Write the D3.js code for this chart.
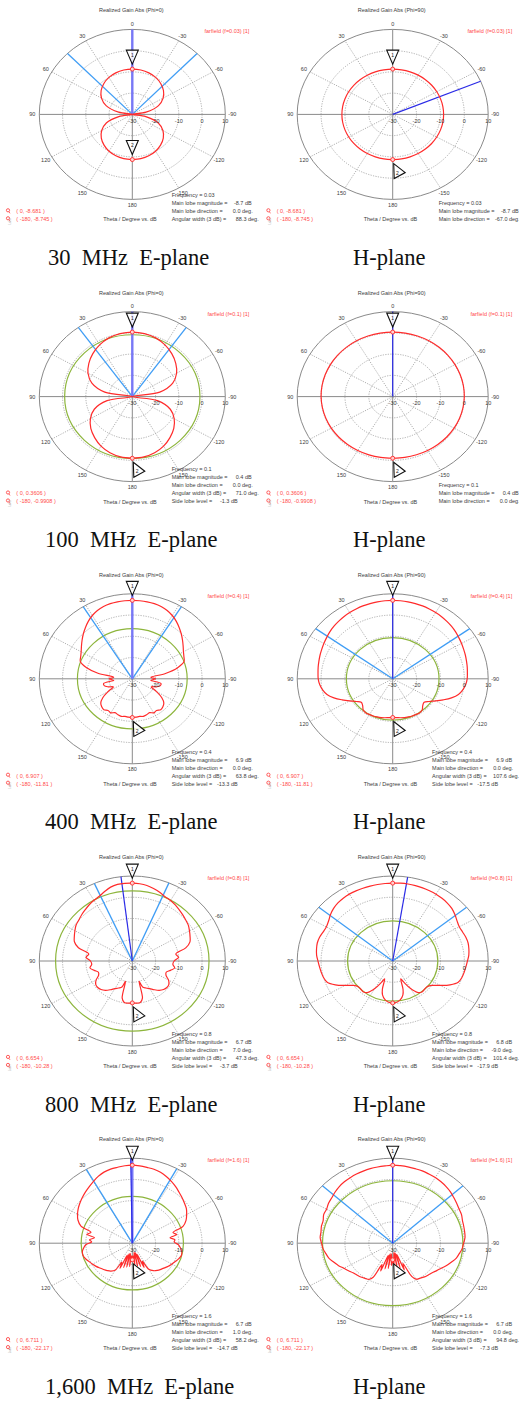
<!DOCTYPE html>
<html>
<head>
<meta charset="utf-8">
<script src="https://cdn.jsdelivr.net/npm/d3@7"></script>
<style>
  html, body { margin: 0; padding: 0; background: #fff; }
  svg { display: block; }
  text { font-family: "Liberation Sans", Arial, sans-serif; }
  .cap { font-family: "Liberation Serif", "Times New Roman", serif; font-size: 22.5px; fill: #111; }
</style>
</head>
<body>
<svg id="fig" width="519" height="1401"></svg>
<script>
// ---- Far-field cuts: theta (deg, 0..180), gain on the +theta side (pos) and on the -theta side (neg), dB ----
const thetaStep10 = [0,10,20,30,40,50,60,70,80,90,100,110,120,130,140,150,160,170,180];
const thetaStep5 = [0,5,10,15,20,25,30,35,40,45,50,55,60,65,70,75,80,85,90,95,100,105,110,115,120,125,130,135,140,145,150,155,160,165,170,175,180];

const e30Pos = [-8.681,-8.8,-9.2,-9.9,-11.0,-12.5,-14.7,-18.0,-24.0,-45,-24.1,-18.1,-14.8,-12.6,-11.1,-10.0,-9.3,-8.9,-8.745];
const e30Neg = [-8.681,-8.8,-9.2,-9.9,-11.0,-12.5,-14.7,-18.0,-24.0,-45,-24.1,-18.1,-14.8,-12.6,-11.1,-10.0,-9.3,-8.9,-8.745];
const h30Pos = [-8.681,-8.682,-8.685,-8.69,-8.695,-8.70,-8.70,-8.71,-8.71,-8.72,-8.72,-8.73,-8.73,-8.735,-8.74,-8.74,-8.745,-8.745,-8.745];
const h30Neg = [-8.681,-8.681,-8.678,-8.675,-8.672,-8.67,-8.668,-8.67,-8.67,-8.675,-8.68,-8.69,-8.70,-8.71,-8.72,-8.73,-8.74,-8.745,-8.745];

const e100Pos = [0.3606,0.1,-0.6,-1.9,-3.6,-5.6,-8.0,-11.5,-18.0,-40,-19.0,-12.6,-9.2,-6.7,-4.8,-3.1,-1.9,-1.2,-0.9908];
const e100Neg = [0.3606,0.1,-0.6,-1.9,-3.6,-5.6,-8.0,-11.5,-18.0,-40,-19.0,-12.6,-9.2,-6.7,-4.8,-3.1,-1.9,-1.2,-0.9908];
const h100Pos = [0.3606,0.35,0.34,0.3,0.25,0.2,0.15,0.1,0.05,0.0,-0.1,-0.2,-0.3,-0.45,-0.6,-0.72,-0.85,-0.95,-0.9908];
const h100Neg = [0.3606,0.35,0.34,0.31,0.26,0.2,0.15,0.1,0.05,0.0,-0.1,-0.2,-0.32,-0.45,-0.6,-0.73,-0.86,-0.95,-0.9908];

const e400Pos = [6.907,6.88,6.8,6.6,6.2,5.5,4.4,3.0,1.4,-0.2,-1.8,-3.3,-4.6,-5.5,-6.2,-9.5,-15,-22,-20,-22,-17.5,-17.5,-19,-21,-18,-14.5,-12.3,-11.4,-11.0,-11.8,-11.5,-12.4,-12.0,-11.7,-12.0,-11.9,-11.81];
const e400Neg = [6.907,6.88,6.8,6.6,6.2,5.5,4.4,3.0,1.4,-0.2,-1.8,-3.3,-4.6,-5.5,-6.3,-9.8,-15.5,-22,-20,-22,-17.5,-17.5,-19,-21,-18,-14.5,-12.3,-11.4,-11.0,-11.8,-11.5,-12.4,-12.0,-11.7,-12.0,-11.9,-11.81];
const h400Pos = [6.907,6.88,6.8,6.65,6.5,6.25,6.0,5.7,5.3,4.9,4.4,3.8,3.3,2.8,2.4,2.0,1.7,1.4,1.2,0.7,-0.2,-1.5,-3.8,-6.6,-9.2,-11.4,-12.8,-12.2,-10.8,-10.4,-10.6,-10.7,-10.9,-11.1,-11.4,-11.7,-11.81];
const h400Neg = [6.907,6.88,6.8,6.65,6.5,6.25,6.0,5.7,5.3,4.9,4.4,3.8,3.3,2.8,2.4,2.0,1.7,1.4,1.2,0.7,-0.2,-1.5,-3.8,-6.6,-9.2,-11.4,-12.8,-12.2,-10.8,-10.4,-10.6,-10.7,-10.9,-11.1,-11.4,-11.7,-11.81];

const e800Theta = [0,5,10,15,20,25,30,35,40,45,50,55,60,65,70,75,80,85,90,95,100,105,110,115,120,125,130,135,140,145,150,155,160,163,166,170,175,180];
const e800Pos = [6.654,6.7,6.6,6.0,4.8,3.6,3.0,2.3,1.5,0.8,0.0,-0.5,-1.5,-2.5,-3.5,-6.0,-11.0,-10.0,-12.0,-12.5,-11.5,-13.0,-14.5,-14.0,-12.0,-10.8,-10.6,-11.0,-12.0,-13.5,-15.0,-16.0,-17.0,-20.0,-12.0,-10.2,-10.1,-10.28];
const e800Neg = [6.654,6.5,6.1,5.3,4.4,3.4,2.9,2.2,1.4,0.7,0.0,-0.6,-1.6,-2.6,-3.6,-6.2,-11.0,-10.0,-12.0,-12.5,-11.5,-13.0,-14.5,-14.0,-12.0,-10.8,-10.6,-11.0,-12.0,-13.5,-15.0,-16.0,-17.0,-20.0,-12.0,-10.2,-10.1,-10.28];
const h800Theta = [0,5,10,15,20,25,30,35,40,45,50,55,60,65,70,75,80,85,90,95,100,105,110,115,120,125,130,135,140,145,150,155,158,162,165,170,175,180];
const h800Pos = [6.654,6.6,6.55,6.5,6.45,6.4,6.35,6.1,5.7,5.0,4.0,2.8,2.1,2.2,2.6,2.7,2.4,2.0,1.3,0.8,0.4,0.0,-0.8,-3.5,-7.0,-10.0,-11.2,-11.2,-11.0,-12.0,-15.0,-19.0,-21.0,-16.0,-13.5,-11.5,-10.5,-10.28];
const h800Neg = [6.654,6.75,6.8,6.75,6.6,6.45,6.3,6.0,5.6,5.0,4.0,2.9,2.2,2.3,2.6,2.7,2.4,2.0,1.3,0.8,0.4,0.0,-0.8,-3.5,-7.0,-10.0,-11.2,-11.2,-11.0,-12.0,-15.0,-19.0,-21.0,-16.0,-13.5,-11.5,-10.5,-10.28];

const e1600Theta = [0,5,10,15,20,25,30,35,40,45,50,55,60,65,70,74,78,81,85,88,92,96,100,105,110,115,120,125,130,135,140,145,150,153,156,159,162,165,168,171,174,177,180];
const e1600Pos = [6.711,6.6,6.3,6.1,5.6,4.7,3.5,2.4,1.4,0.4,-0.6,-1.6,-2.8,-4.2,-6.5,-11.5,-10,-13.5,-11.5,-12.5,-10.0,-9.0,-8.2,-8.0,-8.6,-9.5,-10.3,-11.0,-11.8,-12.5,-13.2,-14.0,-15.5,-20,-17,-24,-18,-25,-18.5,-25,-19,-24,-22.17];
const e1600Neg = [6.711,6.5,6.2,6.0,5.5,4.6,3.6,2.5,1.3,0.3,-0.7,-1.6,-3.0,-4.5,-6.8,-11.8,-10.5,-13.6,-11.6,-12.0,-10.2,-9.2,-8.4,-8.1,-8.7,-9.6,-10.4,-11.1,-11.9,-12.6,-13.3,-14.2,-15.8,-20.5,-17.5,-24.5,-18.5,-25.5,-19,-25.5,-19.5,-24,-22.17];
const h1600Theta = [0,5,10,15,20,25,30,35,40,45,50,55,60,65,70,75,80,85,90,95,100,105,110,115,120,125,130,135,140,145,150,153,156,159,162,165,168,171,174,177,180];
const h1600Pos = [6.711,6.5,6.4,6.3,6.1,5.9,5.6,5.3,4.8,4.1,3.3,2.8,2.0,1.9,1.0,0.9,0.5,0.5,-0.2,-0.7,-1.6,-2.4,-3.8,-5.0,-6.4,-7.4,-8.3,-8.8,-9.2,-9.8,-10.4,-12,-19,-16,-24,-17.5,-25,-18,-25,-19.5,-22.17];
const h1600Neg = [6.711,6.6,6.5,6.3,6.2,5.9,5.7,5.3,4.8,4.2,3.4,2.7,2.1,1.8,1.1,0.8,0.6,0.4,-0.3,-0.8,-1.7,-2.5,-3.9,-5.1,-6.5,-7.5,-8.4,-8.9,-9.3,-9.9,-10.5,-12.5,-19.5,-16.5,-24.5,-18,-25.5,-18.5,-25.5,-19.5,-22.17];

// ---- Per-frequency annotations ----
const freqGHz = ['0.03', '0.1', '0.4', '0.8', '1.6'];
const captionE = ['30  MHz  E-plane', '100  MHz  E-plane', '400  MHz  E-plane', '800  MHz  E-plane', '1,600  MHz  E-plane'];
const captionH = 'H-plane';
const markAt0 = [-8.681, 0.3606, 6.907, 6.654, 6.711];
const markAt180 = [-8.745, -0.9908, -11.81, -10.28, -22.17];

const mainMagE = [-8.7, 0.4, 6.9, 6.7, 6.7];
const mainMagH = [-8.7, 0.4, 6.9, 6.8, 6.7];
const mainDirE = [0.0, 0.0, 0.0, 7.0, 1.0];
const mainDirH = [-67.0, 0.0, 0.0, -9.0, 0.0];
const beamWidthE = [88.3, 71.0, 63.8, 47.3, 58.2];
const beamWidthH = [null, null, 107.6, 101.4, 94.8];
const beamEdgesE = [[44.15, -44.15], [35.5, -35.5], [31.9, -31.9], [24.1, -23.2], [29.6, -28.6]];
const beamEdgesH = [null, null, [53.8, -53.8], [50.7, -50.7], [47.4, -47.4]];
const sideLobeE = [null, -1.3, -13.3, -3.7, -14.7];
const sideLobeH = [null, null, -17.5, -17.9, -7.3];

const angleTicks = [0, 30, 60, 90, 120, 150, 180, -30, -60, -90, -120, -150];
const ringTicks = [-30, -20, -10, 0, 10];
const gridRings = [-20, -10, 0];
const spokes = [30, 60, 120, 150, -30, -60, -120, -150];

const cutsE = [[thetaStep10, e30Pos, e30Neg], [thetaStep10, e100Pos, e100Neg], [thetaStep5, e400Pos, e400Neg], [e800Theta, e800Pos, e800Neg], [e1600Theta, e1600Pos, e1600Neg]];
const cutsH = [[thetaStep10, h30Pos, h30Neg], [thetaStep10, h100Pos, h100Neg], [thetaStep5, h400Pos, h400Neg], [h800Theta, h800Pos, h800Neg], [h1600Theta, h1600Pos, h1600Neg]];

// ---- Layout ----
const colX = [132.3, 392.7];
const colRx = [93, 95.5];
const plotRy = 85;
const rowY0 = 114.4, rowStep = 282.2;
const captionY0 = 265;

const svg = d3.select('#fig');
const radial = d3.scaleLinear().domain([-30, 10]).range([0, 1]).clamp(true);
const toRad = d3.scaleLinear().domain([0, 180]).range([0, Math.PI]);

const C = {
  grid: '#9a9a9a', axis: '#8a8a8a', text: '#3c3c3c', red: '#ff2b2b',
  green: '#8db53c', light: '#3f9df5', dark: '#2b2be6', soft: '#7878f6'
};

function drawCut(p) {
  const g = svg.append('g');
  const pt = (th, v) => {
    const s = radial(v), a = toRad(th);
    return [p.cx - p.rx * s * Math.sin(a), p.cy - p.ry * s * Math.cos(a)];
  };
  const rimPt = (th, k = 1) => {
    const a = toRad(th);
    return [p.cx - p.rx * k * Math.sin(a), p.cy - p.ry * k * Math.cos(a)];
  };

  // header texts
  g.append('text').attr('x', p.cx - 1).attr('y', p.cy - 104)
    .attr('text-anchor', 'middle').attr('dominant-baseline', 'central')
    .attr('font-size', 5.5).attr('fill', C.text)
    .text(`Realized Gain Abs (Phi=${p.phi})`);
  g.append('text').attr('x', p.cx + p.rx + 24).attr('y', p.cy - 83)
    .attr('text-anchor', 'end').attr('dominant-baseline', 'central')
    .attr('font-size', 5.5).attr('fill', '#ff4a4a')
    .text(`farfield (f=${p.freq}) [1]`);

  // grid: dotted rings and spokes, solid rim and axes
  g.selectAll('ellipse.ring').data(gridRings).join('ellipse')
    .attr('cx', p.cx).attr('cy', p.cy)
    .attr('rx', d => p.rx * radial(d)).attr('ry', d => p.ry * radial(d))
    .attr('fill', 'none').attr('stroke', C.grid).attr('stroke-width', 0.8)
    .attr('stroke-dasharray', '1.2,1.3');
  g.selectAll('line.spoke').data(spokes).join('line')
    .attr('x1', p.cx).attr('y1', p.cy)
    .attr('x2', d => rimPt(d)[0]).attr('y2', d => rimPt(d)[1])
    .attr('stroke', C.grid).attr('stroke-width', 0.8).attr('stroke-dasharray', '1.2,1.3');
  g.append('ellipse').attr('cx', p.cx).attr('cy', p.cy).attr('rx', p.rx).attr('ry', p.ry)
    .attr('fill', 'none').attr('stroke', C.axis).attr('stroke-width', 1);
  [[90, -90], [0, 180]].forEach(([a, b]) => {
    const A = rimPt(a), B = rimPt(b);
    g.append('line').attr('x1', A[0]).attr('y1', A[1]).attr('x2', B[0]).attr('y2', B[1])
      .attr('stroke', C.axis).attr('stroke-width', 1);
  });

  // side lobe level circle
  if (p.sll !== null) {
    const s = radial(p.mag + p.sll);
    g.append('ellipse').attr('cx', p.cx).attr('cy', p.cy)
      .attr('rx', p.rx * s).attr('ry', p.ry * s)
      .attr('fill', 'none').attr('stroke', C.green).attr('stroke-width', 1.2);
  }

  // 3 dB beam edges
  if (p.edges) {
    p.edges.forEach(a => {
      const E = rimPt(a);
      g.append('line').attr('x1', p.cx).attr('y1', p.cy).attr('x2', E[0]).attr('y2', E[1])
        .attr('stroke', C.light).attr('stroke-width', 1.3);
    });
  }

  // main lobe direction
  if (p.soft) {
    const E = rimPt(0);
    g.append('line').attr('x1', p.cx).attr('y1', p.cy).attr('x2', E[0]).attr('y2', E[1])
      .attr('stroke', C.soft).attr('stroke-width', 2.4);
  }
  if (!p.soft || p.dir !== 0) {
    const E = rimPt(p.dir);
    g.append('line').attr('x1', p.cx).attr('y1', p.cy).attr('x2', E[0]).attr('y2', E[1])
      .attr('stroke', C.dark).attr('stroke-width', 1.2);
  }

  // pattern trace, from -180 through 0 to +180
  const [th, pos, neg] = p.cut;
  const pts = [];
  for (let i = th.length - 1; i >= 1; i--) pts.push([-th[i], neg[i]]);
  for (let i = 0; i < th.length; i++) pts.push([th[i], pos[i]]);
  const line = d3.line()
    .x(d => pt(d[0], d[1])[0]).y(d => pt(d[0], d[1])[1])
    .curve(d3.curveCatmullRom.alpha(0.5));
  g.append('path').attr('d', line(pts)).attr('fill', 'none')
    .attr('stroke', C.red).attr('stroke-width', 1.2).attr('stroke-linejoin', 'round');

  // angle labels
  g.selectAll('text.ang').data(angleTicks).join('text')
    .attr('x', d => p.cx - (p.rx + 7) * Math.sin(toRad(d)))
    .attr('y', d => p.cy - (p.ry + 5.5) * Math.cos(toRad(d)))
    .attr('text-anchor', 'middle').attr('dominant-baseline', 'central')
    .attr('font-size', 5.5).attr('fill', C.text).text(d => d);
  // radial labels
  g.selectAll('text.rad').data(ringTicks).join('text')
    .attr('x', d => p.cx + p.rx * radial(d)).attr('y', p.cy + 6.5)
    .attr('text-anchor', 'middle').attr('dominant-baseline', 'central')
    .attr('font-size', 5.5).attr('fill', C.text).text(d => d);

  // markers at theta = 0 and theta = 180
  const m1 = pt(0, p.at0), m2 = pt(180, p.at180);
  [m1, m2].forEach(m => {
    g.append('circle').attr('cx', m[0]).attr('cy', m[1]).attr('r', 2)
      .attr('fill', '#ffd0d0').attr('stroke', C.red).attr('stroke-width', 0.9);
  });
  const tri = (x, y, shape, label, lx, ly) => {
    g.append('polygon').attr('points', shape.map(s => [x + s[0], y + s[1]].join(',')).join(' '))
      .attr('fill', '#fff').attr('fill-opacity', 0.85)
      .attr('stroke', '#111').attr('stroke-width', 1.1).attr('stroke-linejoin', 'miter');
    g.append('text').attr('x', x + lx).attr('y', y + ly)
      .attr('text-anchor', 'middle').attr('dominant-baseline', 'central')
      .attr('font-size', 5).attr('fill', '#222').text(label);
  };
  const down = [[-6, -14], [6, -14], [0, 0]];
  const tilt = [[0, 0], [11.5, 9], [0.5, 15]];
  tri(m1[0], m1[1] - 5, down, '1', 0, -9.5);
  if (p.tri2 === 'down') tri(m2[0], m2[1] - 5, down, '2', 0, -9.5);
  else tri(m2[0] + 1, m2[1] + 4, tilt, '2', 3.8, 9.2);

  // result summary block
  const rows = [[`Frequency = ${p.freq}`, null, 0]];
  rows.push(['Main lobe magnitude =', `${p.mag.toFixed(1)} dB`, 80]);
  rows.push(['Main lobe direction =', `${p.dir.toFixed(1)} deg.`, 81]);
  if (p.width !== null) rows.push(['Angular width (3 dB) =', `${p.width.toFixed(1)} deg.`, 87]);
  if (p.sll !== null) rows.push(['Side lobe level =', `${p.sll.toFixed(1)} dB`, 66]);
  const bx = p.cx + (rows.length <= 3 ? 46 : 39.4);
  rows.forEach((r, i) => {
    const y = p.cy + 104.7 - (rows.length - 1 - i) * 8;
    g.append('text').attr('x', bx).attr('y', y).attr('dominant-baseline', 'central')
      .attr('font-size', 5.5).attr('fill', C.text).text(r[0]);
    if (r[1]) g.append('text').attr('x', bx + r[2]).attr('y', y)
      .attr('text-anchor', 'end').attr('dominant-baseline', 'central')
      .attr('font-size', 5.5).attr('fill', C.text).text(r[1]);
  });

  // marker legend
  [[`( 0, ${p.at0} )`, 96.7], [`( -180, ${p.at180} )`, 104.7]].forEach(([t, dy]) => {
    const y = p.cy + dy;
    g.append('circle').attr('cx', p.cx - 124.3).attr('cy', y - 0.8).attr('r', 1.6)
      .attr('fill', '#fff').attr('stroke', '#ff4a4a').attr('stroke-width', 0.9);
    g.append('line').attr('x1', p.cx - 123.3).attr('y1', y + 0.6).attr('x2', p.cx - 122.3).attr('y2', y + 2.2)
      .attr('stroke', '#ff4a4a').attr('stroke-width', 0.8);
    g.append('text').attr('x', p.cx - 116).attr('y', y).attr('dominant-baseline', 'central')
      .attr('font-size', 5.5).attr('fill', '#ff4a4a').attr('xml:space', 'preserve').text(t);
  });
  g.append('text').attr('transform', `translate(${p.cx - 121.6},${p.cy + 110}) rotate(-90)`)
    .attr('font-size', 2.6).attr('fill', '#aaa').text('Label');
  g.append('text').attr('x', p.cx - 2.3).attr('y', p.cy + 105)
    .attr('text-anchor', 'middle').attr('dominant-baseline', 'central')
    .attr('font-size', 5.5).attr('fill', C.text).text('Theta / Degree vs. dB');
}

for (let r = 0; r < 5; r++) {
  const cy = rowY0 + r * rowStep;
  drawCut({
    cx: colX[0], cy, rx: colRx[0], ry: plotRy, phi: 0, freq: freqGHz[r], cut: cutsE[r],
    at0: markAt0[r], at180: markAt180[r], mag: mainMagE[r], dir: mainDirE[r],
    width: beamWidthE[r], edges: beamEdgesE[r], sll: sideLobeE[r],
    soft: r !== 3, tri2: r === 0 ? 'down' : 'tilt'
  });
  drawCut({
    cx: colX[1], cy, rx: colRx[1], ry: plotRy, phi: 90, freq: freqGHz[r], cut: cutsH[r],
    at0: markAt0[r], at180: markAt180[r], mag: mainMagH[r], dir: mainDirH[r],
    width: beamWidthH[r], edges: beamEdgesH[r], sll: sideLobeH[r],
    soft: false, tri2: 'tilt'
  });
  const capY = captionY0 + r * rowStep;
  svg.append('text').attr('class', 'cap').attr('x', r === 0 ? 48 : 45).attr('y', capY)
    .attr('xml:space', 'preserve').style('white-space', 'pre').text(captionE[r]);
  svg.append('text').attr('class', 'cap').attr('x', 353).attr('y', capY).text(captionH);
}
</script>
</body>
</html>
